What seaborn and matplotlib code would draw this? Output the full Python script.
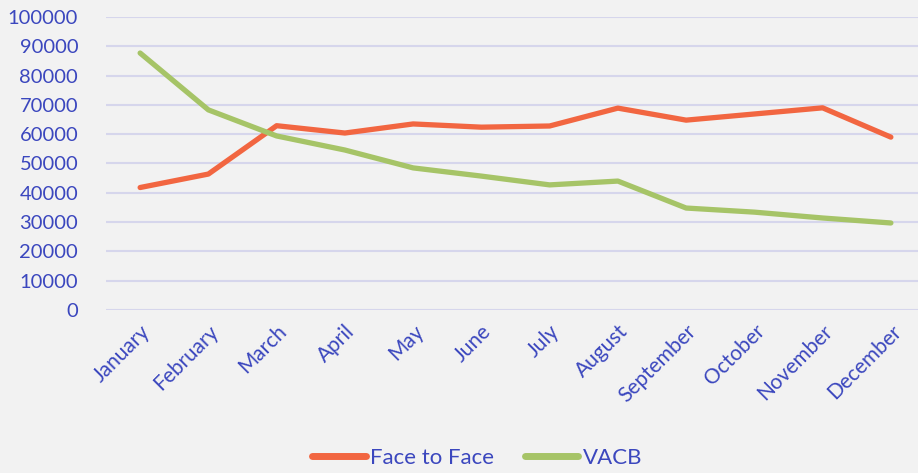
import pandas as pd
import matplotlib.pyplot as plt
import seaborn as sns

# Monthly values
months = ['January', 'February', 'March', 'April', 'May', 'June', 'July',
          'August', 'September', 'October', 'November', 'December']
face_to_face = [41800, 46400, 62900, 60400, 63500, 62400, 62800, 68900, 64800, 66900, 69000, 59000]
vacb = [87700, 68300, 59400, 54600, 48500, 45700, 42700, 44000, 34800, 33400, 31400, 29700]

df = pd.DataFrame({
    'month': months * 2,
    'value': face_to_face + vacb,
    'series': ['Face to Face'] * 12 + ['VACB'] * 12,
})
df['pos'] = df['month'].map({m: i for i, m in enumerate(months)})

text_col = '#3B47BE'
sns.set_style('white')
plt.rcParams['font.family'] = ['Lato', 'DejaVu Sans']

fig = plt.figure(figsize=(9.18, 4.73), dpi=100)
fig.patch.set_facecolor('#F2F2F2')
ax = fig.add_axes([106 / 918, 1 - 310 / 473, 819 / 918, 293 / 473])
ax.set_facecolor('#F2F2F2')

sns.lineplot(data=df, x='pos', y='value', hue='series',
             palette={'Face to Face': '#F26641', 'VACB': '#A6C467'},
             linewidth=3.8, ax=ax, legend=False, solid_capstyle='round')

ax.set_xlim(-0.5, 11.5)
ax.set_ylim(0, 100000)
ax.set_yticks(range(0, 100001, 10000))
ax.set_yticklabels([str(v) for v in range(0, 100001, 10000)])
ax.yaxis.grid(True, color='#D6D6EC', linewidth=1.5)
ax.set_axisbelow(True)
for s in ax.spines.values():
    s.set_visible(False)

ax.set_xticks(range(12))
ax.set_xticklabels(months, rotation=45, ha='right', rotation_mode='anchor')
ax.tick_params(axis='both', length=0, colors=text_col)
ax.tick_params(axis='y', pad=20, labelsize=14.5)
ax.tick_params(axis='x', pad=8, labelsize=15)
ax.set_xlabel('')
ax.set_ylabel('')

handles = [plt.Line2D([], [], color='#F26641', linewidth=5, solid_capstyle='round'),
           plt.Line2D([], [], color='#A6C467', linewidth=5, solid_capstyle='round')]
fig.legend(handles, ['Face to Face', 'VACB'], loc='center', bbox_to_anchor=(0.52, 1 - 458 / 473),
           ncol=2, frameon=False, fontsize=16, labelcolor=text_col,
           handlelength=2.4, handletextpad=0.2, columnspacing=1.4)

fig.savefig('out.png', dpi=100, facecolor=fig.get_facecolor())
